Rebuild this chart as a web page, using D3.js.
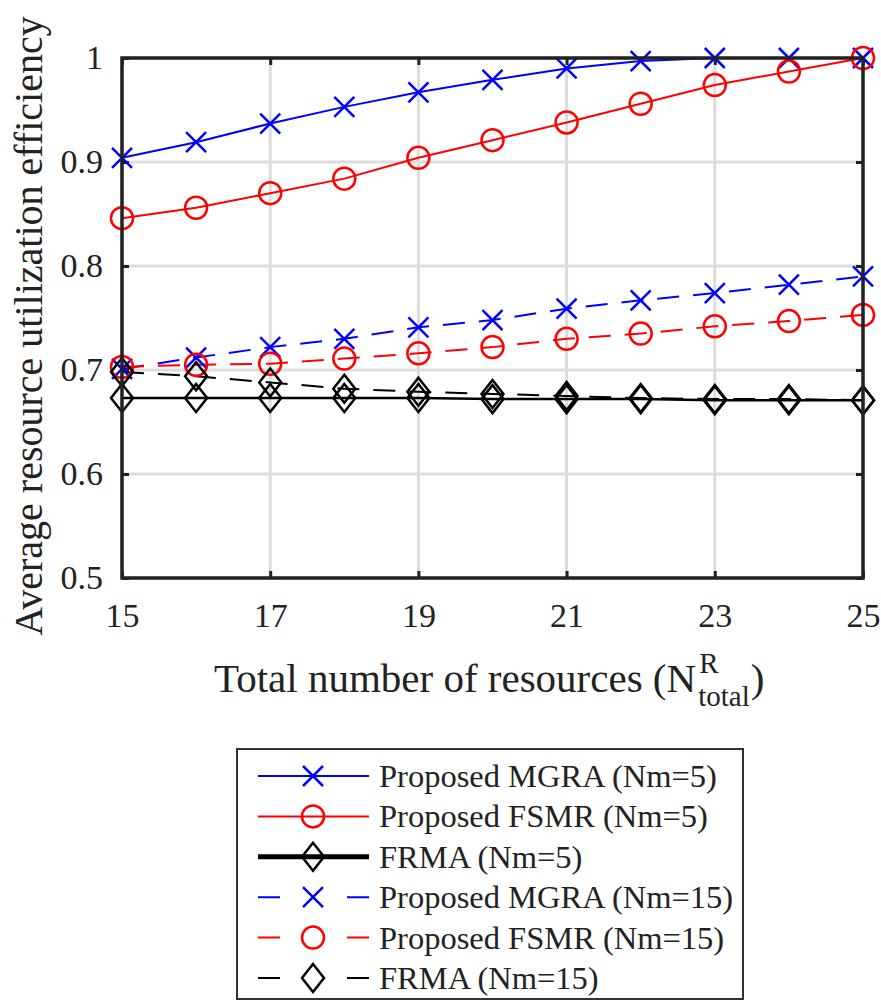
<!DOCTYPE html>
<html>
<head>
<meta charset="utf-8">
<script src="https://cdn.jsdelivr.net/npm/d3@7"></script>
<style>
  body { margin: 0; background: #fff; }
  text { font-family: "Liberation Serif", "Times New Roman", serif; fill: #222; }
</style>
</head>
<body>
<div id="chart"></div>
<script>
// data
var resources = [15, 16, 17, 18, 19, 20, 21, 22, 23, 24, 25];
var mgra5 = [0.904, 0.919, 0.937, 0.953, 0.967, 0.979, 0.990, 0.997, 1.0, 1.0, 1.0];
var fsmr5 = [0.846, 0.856, 0.870, 0.884, 0.904, 0.921, 0.938, 0.956, 0.974, 0.987, 1.0];
var frma5 = [0.673, 0.673, 0.673, 0.673, 0.673, 0.672, 0.672, 0.672, 0.671, 0.671, 0.671];
var mgra15 = [0.701, 0.712, 0.722, 0.730, 0.741, 0.748, 0.759, 0.767, 0.774, 0.782, 0.790];
var fsmr15 = [0.703, 0.705, 0.706, 0.711, 0.716, 0.722, 0.730, 0.735, 0.742, 0.747, 0.753];
var frma15 = [0.698, 0.694, 0.688, 0.682, 0.679, 0.677, 0.675, 0.673, 0.672, 0.672, 0.671];
var xTicks = [15, 17, 19, 21, 23, 25];
var yTicks = [0.5, 0.6, 0.7, 0.8, 0.9, 1];

var series = [
  { name: "Proposed MGRA (Nm=5)", values: mgra5, color: "#0000ff", dash: null, marker: "x", width: 2 },
  { name: "Proposed FSMR (Nm=5)", values: fsmr5, color: "#ff0000", dash: null, marker: "o", width: 2 },
  { name: "FRMA (Nm=5)", values: frma5, color: "#000", dash: null, marker: "d", width: 2.5, legendWidth: 5 },
  { name: "Proposed MGRA (Nm=15)", values: mgra15, color: "#0000ff", dash: "22,14", marker: "x", width: 2 },
  { name: "Proposed FSMR (Nm=15)", values: fsmr15, color: "#ff0000", dash: "22,14", marker: "o", width: 2 },
  { name: "FRMA (Nm=15)", values: frma15, color: "#000", dash: "22,14", marker: "d", width: 2 }
];

var W = 881, H = 1002;
var margin = { left: 122, top: 58, right: 18, bottom: 424 };
var width = W - margin.left - margin.right;
var height = H - margin.top - margin.bottom;

var svg = d3.select("#chart").append("svg").attr("width", W).attr("height", H);
var g = svg.append("g").attr("transform", "translate(" + margin.left + "," + margin.top + ")");

var x = d3.scaleLinear().domain([15, 25]).range([0, width]);
var y = d3.scaleLinear().domain([0.5, 1]).range([height, 0]);

// grid
g.append("g").selectAll("line").data(xTicks).enter().append("line")
  .attr("x1", function (d) { return x(d); }).attr("x2", function (d) { return x(d); })
  .attr("y1", 0).attr("y2", height)
  .style("stroke", "#dcdcdc").style("stroke-width", 3);
g.append("g").selectAll("line").data(yTicks).enter().append("line")
  .attr("y1", function (d) { return y(d); }).attr("y2", function (d) { return y(d); })
  .attr("x1", 0).attr("x2", width)
  .style("stroke", "#dcdcdc").style("stroke-width", 3);

// axes with inward ticks
var xAxis = d3.axisBottom(x).tickValues(xTicks).tickSizeInner(-7).tickSizeOuter(0).tickPadding(25).tickFormat(d3.format("d"));
var yAxis = d3.axisLeft(y).tickValues(yTicks).tickSizeInner(-7).tickSizeOuter(0).tickPadding(19).tickFormat(function (d) { return d === 1 ? "1" : d3.format(".1f")(d); });
var xa = g.append("g").attr("transform", "translate(0," + height + ")").call(xAxis);
var ya = g.append("g").call(yAxis);
var xa2 = g.append("g").call(d3.axisTop(x).tickValues(xTicks).tickSizeInner(-7).tickSizeOuter(0).tickFormat(""));
var ya2 = g.append("g").attr("transform", "translate(" + width + ",0)").call(d3.axisRight(y).tickValues(yTicks).tickSizeInner(-7).tickSizeOuter(0).tickFormat(""));
[xa, ya, xa2, ya2].forEach(function (a) {
  a.select(".domain").remove();
  a.selectAll(".tick line").style("stroke", "#222").style("stroke-width", 3);
  a.selectAll("text").style("font-size", "34px").style("font-family", "Liberation Serif").style("fill", "#222");
});

// lines
var line = d3.line().x(function (d, i) { return x(resources[i]); }).y(function (d) { return y(d); });
series.forEach(function (s) {
  g.append("path").datum(s.values).attr("d", line)
    .style("fill", "none").style("stroke", s.color).style("stroke-width", s.width)
    .style("stroke-dasharray", s.dash);
});

function drawMarker(sel, type, color) {
  if (type === "x") {
    sel.append("path").attr("d", "M-10,-10L10,10M-10,10L10,-10")
      .style("stroke", color).style("stroke-width", 2.5).style("fill", "none");
  } else if (type === "o") {
    sel.append("circle").attr("r", 11).style("stroke", color).style("stroke-width", 2.5).style("fill", "none");
  } else {
    sel.append("path").attr("d", "M0,-14L11,0L0,14L-11,0Z")
      .style("stroke", color).style("stroke-width", 2.5).style("fill", "none");
  }
}

series.forEach(function (s) {
  s.values.forEach(function (v, i) {
    var m = g.append("g").attr("transform", "translate(" + x(resources[i]) + "," + y(v) + ")");
    drawMarker(m, s.marker, s.color);
  });
});

// box
g.append("rect").attr("width", width).attr("height", height)
  .style("fill", "none").style("stroke", "#222").style("stroke-width", 3.5);

// y label
svg.append("text")
  .attr("transform", "translate(42,326) rotate(-90)")
  .attr("text-anchor", "middle")
  .style("font-size", "40px")
  .text("Average resource utilization efficiency");

// x label with stacked super/subscript
var xl = svg.append("g");
var main = xl.append("text").attr("x", 0).attr("y", 0).style("font-size", "41px").text("Total number of resources (N");
var mw = main.node().getComputedTextLength();
xl.append("text").attr("x", mw + 3).attr("y", -19).style("font-size", "29px").text("R");
var sub = xl.append("text").attr("x", mw + 2).attr("y", 14).style("font-size", "29px").text("total");
var sw = sub.node().getComputedTextLength();
xl.append("text").attr("x", mw + sw + 3).attr("y", 0).style("font-size", "41px").text(")");
xl.attr("transform", "translate(214,692)");

// legend
var lg = svg.append("g").attr("transform", "translate(237,749)");
lg.append("rect").attr("width", 506).attr("height", 250)
  .style("fill", "#fff").style("stroke", "#333").style("stroke-width", 2);
series.forEach(function (s, i) {
  var cy = 27 + i * 40.4;
  lg.append("line").attr("x1", 21).attr("x2", 132).attr("y1", cy).attr("y2", cy)
    .style("stroke", s.color).style("stroke-width", s.legendWidth || s.width)
    .style("stroke-dasharray", s.dash ? "22,67" : null);
  var m = lg.append("g").attr("transform", "translate(76," + cy + ")");
  drawMarker(m, s.marker, s.color);
  lg.append("text").attr("x", 142).attr("y", cy + 11).style("font-size", "32.5px").text(s.name);
});
</script>
</body>
</html>
